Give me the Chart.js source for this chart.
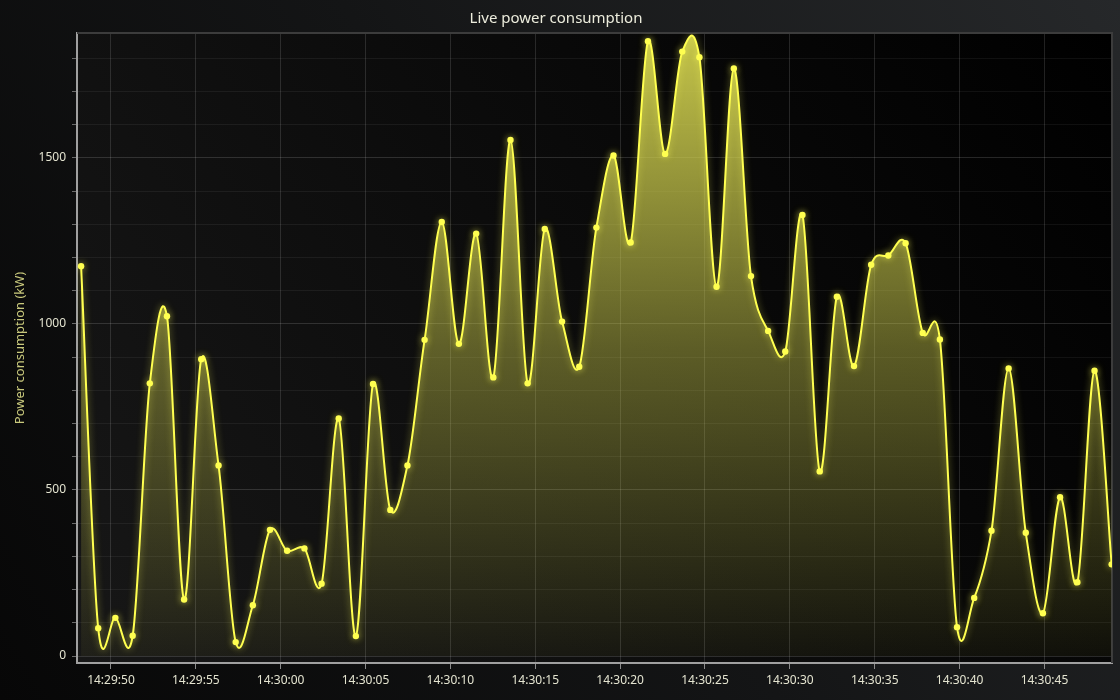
<!DOCTYPE html>
<html>
<head>
<meta charset="utf-8">
<title>Live power consumption</title>
<script src="https://cdn.jsdelivr.net/npm/chart.js@4.4.1/dist/chart.umd.min.js"></script>
<style>
  html, body { margin: 0; padding: 0; background: #111; }
  #wrap { width: 1120px; height: 700px; }
</style>
</head>
<body>
<div id="wrap"><canvas id="powerChart"></canvas></div>
<script>
// seconds after 14:29:00 for each sample
const sampleTimes = [
  48.24, 49.25, 50.26, 51.28, 52.29, 53.30, 54.31, 55.32, 56.34, 57.35,
  58.36, 59.37, 60.38, 61.40, 62.41, 63.42, 64.43, 65.44, 66.46, 67.47,
  68.48, 69.49, 70.50, 71.52, 72.53, 73.54, 74.55, 75.56, 76.58, 77.59,
  78.60, 79.61, 80.62, 81.64, 82.65, 83.66, 84.67, 85.68, 86.70, 87.71,
  88.72, 89.73, 90.74, 91.76, 92.77, 93.78, 94.79, 95.80, 96.82, 97.83,
  98.84, 99.85, 100.86, 101.88, 102.89, 103.90, 104.91, 105.92, 106.94, 107.95,
  108.96
];

// power consumption in kW
const powerValues = [
  1174, 84, 115, 61, 821, 1023, 170, 894, 574, 42,
  153, 380, 317, 324, 218, 715, 60, 819, 440, 574,
  952, 1307, 940, 1272, 839, 1554, 821, 1286, 1007, 871,
  1290, 1507, 1245, 1851, 1512, 1820, 1803, 1112, 1769, 1144,
  979, 917, 1328, 556, 1082, 873, 1178, 1206, 1243, 973,
  953, 87, 175, 377, 866, 371, 129, 478, 222, 859,
  276
];

const tickSeconds = [50, 55, 60, 65, 70, 75, 80, 85, 90, 95, 100, 105];
const tickLabels = ["14:29:50", "14:29:55", "14:30:00", "14:30:05", "14:30:10", "14:30:15",
                    "14:30:20", "14:30:25", "14:30:30", "14:30:35", "14:30:40", "14:30:45"];

// every 100 kW gets a grid line, every 500 kW a label
const yTickValues = [0, 100, 200, 300, 400, 500, 600, 700, 800, 900,
                     1000, 1100, 1200, 1300, 1400, 1500, 1600, 1700, 1800];
const yLabelValues = [0, 500, 1000, 1500];

Chart.defaults.font.family = '"Noto Sans", "Open Sans", sans-serif';
Chart.defaults.color = "#e4e4d0";

// backgrounds, plot frame and a soft glow on the line
const darkTheme = {
  id: "darkTheme",
  beforeDraw(chart) {
    const { ctx, width, height, chartArea: a } = chart;
    ctx.save();
    let g = ctx.createLinearGradient(width, 0, 0, height);
    g.addColorStop(0, "#26282a");
    g.addColorStop(0.5, "#141516");
    g.addColorStop(1, "#070707");
    ctx.fillStyle = g;
    ctx.fillRect(0, 0, width, height);

    g = ctx.createLinearGradient(a.right, a.top, a.left, a.bottom);
    g.addColorStop(0, "#000000");
    g.addColorStop(1, "#171717");
    ctx.fillStyle = g;
    ctx.fillRect(a.left, a.top, a.right - a.left, a.bottom - a.top);
    ctx.restore();
  },
  beforeDatasetsDraw(chart) {
    const { ctx, chartArea: a } = chart;
    ctx.save();
    ctx.strokeStyle = "#3c3c3c";
    ctx.lineWidth = 2;
    ctx.beginPath();
    ctx.moveTo(a.left, a.top);
    ctx.lineTo(a.right, a.top);
    ctx.lineTo(a.right, a.bottom);
    ctx.stroke();
    ctx.restore();
  },
  beforeDatasetDraw(chart) {
    chart.ctx.save();
    chart.ctx.shadowColor = "rgba(255, 255, 90, 0.55)";
    chart.ctx.shadowBlur = 7;
  },
  afterDatasetDraw(chart) {
    chart.ctx.restore();
  }
};

// cardinal spline control points (the original curve overshoots between samples)
const splineTension = 0.9;
const cardinalSpline = {
  id: "cardinalSpline",
  afterDatasetsUpdate(chart) {
    const meta = chart.getDatasetMeta(0);
    const pts = meta.data;
    const n = pts.length;
    for (let i = 0; i < n; i++) {
      const p = pts[i];
      const prev = pts[Math.max(i - 1, 0)];
      const next = pts[Math.min(i + 1, n - 1)];
      const dx = (next.x - prev.x) / 6;
      const dy = (next.y - prev.y) / 6 * splineTension;
      p.cp1x = p.x - dx;
      p.cp1y = p.y - dy;
      p.cp2x = p.x + dx;
      p.cp2y = p.y + dy;
    }
    meta.dataset._pointsUpdated = true;
  }
};

const ctx = document.getElementById("powerChart").getContext("2d");
new Chart(ctx, {
  type: "line",
  data: {
    datasets: [
      {
        label: "Power consumption",
        data: sampleTimes.map((t, i) => ({ x: t, y: powerValues[i] })),
        borderColor: "#ffff50",
        borderWidth: 2,
        pointRadius: 3.2,
        pointBackgroundColor: "#ffff50",
        pointBorderWidth: 0,
        tension: 0.5,
        clip: 0,
        fill: "origin",
        backgroundColor: (c) => {
          const a = c.chart.chartArea;
          if (!a) return "rgba(205,205,75,0.5)";
          const g = c.chart.ctx.createLinearGradient(0, a.top, 0, a.bottom);
          g.addColorStop(0, "rgba(208,208,78,0.95)");
          g.addColorStop(0.5, "rgba(208,208,78,0.42)");
          g.addColorStop(1, "rgba(208,208,78,0.04)");
          return g;
        },
      },
    ],
  },
  options: {
    responsive: true,
    maintainAspectRatio: false,
    animation: false,
    devicePixelRatio: 1,
    layout: { padding: { left: 0, right: 8, top: 0, bottom: 0 } },
    plugins: {
      legend: { display: false },
      tooltip: { enabled: false },
      title: {
        display: true,
        text: "Live power consumption",
        color: "#ececdc",
        font: { size: 15, weight: "normal" },
        padding: { top: 10, bottom: 5 },
      },
    },
    scales: {
      x: {
        type: "linear",
        min: 48.0,
        max: 108.98,
        afterBuildTicks: (s) => { s.ticks = tickSeconds.map((v) => ({ value: v })); },
        afterFit: (s) => { s.height = 37; },
        ticks: {
          autoSkip: false,
          maxRotation: 0,
          padding: 4,
          font: { size: 12 },
          color: "#e4e4d0",
          callback: (v) => tickLabels[tickSeconds.indexOf(v)],
        },
        grid: {
          color: "rgba(255,255,255,0.13)",
          tickColor: "#8a8a8a",
          tickLength: 6,
        },
        border: { color: "#a0a0a0", width: 2 },
      },
      y: {
        min: -21,
        max: 1876,
        afterBuildTicks: (s) => { s.ticks = yTickValues.map((v) => ({ value: v })); },
        afterFit: (s) => { s.width = 77; },
        ticks: {
          autoSkip: false,
          padding: 6,
          font: { size: 12 },
          color: "#e4e4d0",
          callback: (v) => (yLabelValues.includes(v) ? String(v) : ""),
        },
        grid: {
          color: (c) => (c.tick && yLabelValues.includes(c.tick.value) ? "rgba(255,255,255,0.14)" : "rgba(255,255,255,0.06)"),
          tickColor: "#6a6a6a",
          tickLength: 5,
        },
        border: { color: "#a0a0a0", width: 2 },
        title: {
          display: true,
          text: "Power consumption (kW)",
          color: "#c8c87c",
          font: { size: 13 },
          padding: { top: 12, bottom: 0 },
        },
      },
    },
  },
  plugins: [darkTheme, cardinalSpline],
});
</script>
</body>
</html>
